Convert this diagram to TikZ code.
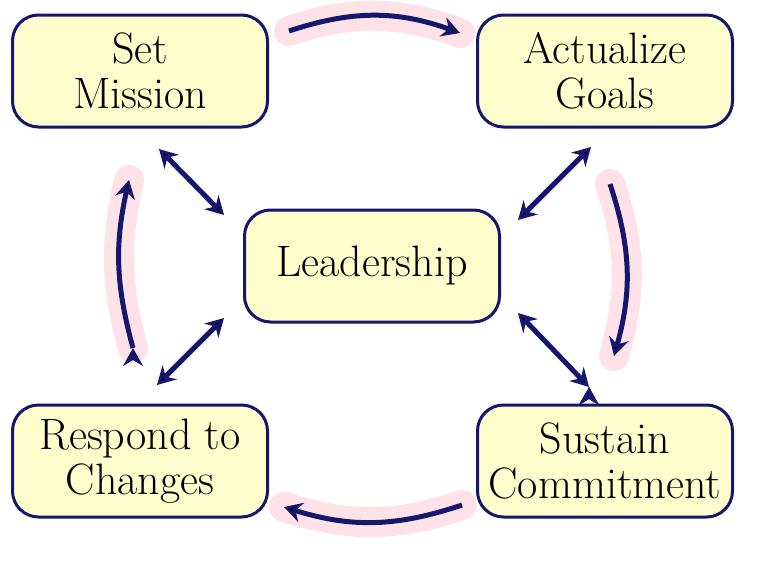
\documentclass[tikz,border=0pt]{standalone}
\usepackage{tikz}
\usetikzlibrary{positioning,arrows.meta,shapes}

\definecolor{boxfill}{RGB}{255,255,206}
\definecolor{navy}{RGB}{22,22,110}
\definecolor{glow}{RGB}{255,226,231}

\tikzset{
    stage/.style={draw=navy,line width=3pt,fill=boxfill,rounded corners=26pt,
        minimum width=255pt,minimum height=112pt,align=center,
        font=\fontsize{44}{45}\selectfont,inner sep=0pt},
    flow/.style={draw=navy,line width=5pt,-{Stealth[length=18pt,width=20pt,inset=6pt]}},
    link/.style={draw=navy,line width=5pt,{Stealth[length=18pt,width=20pt,inset=6pt]}-{Stealth[length=18pt,width=20pt,inset=6pt]}},
    halo/.style={draw=glow,line width=30pt,line cap=round}
}

\begin{document}
\begin{tikzpicture}[x=1pt,y=-1pt]
    \useasboundingbox[fill=white] (0,0) rectangle (764,563);

    \node[stage] (mission) at (140,71) {Set\\Mission};
    \node[stage] (goals) at (605,71) {Actualize\\Goals};
    \node[stage] (lead) at (372,266) {Leadership};
    \node[stage] (changes) at (140,461) {Respond to\\Changes};
    \node[stage] (commit) at (605,461) {Sustain\\Commitment};

    % ends of the arrows
    \coordinate (t0) at (289,31);  \coordinate (t1) at (460,33);
    \coordinate (r0) at (610,184); \coordinate (r1) at (614,356);
    \coordinate (b0) at (462,505); \coordinate (b1) at (284,507);
    \coordinate (l0) at (133,348); \coordinate (l1) at (129,180);

    \coordinate (ml0) at (159,149); \coordinate (ml1) at (224,215);
    \coordinate (gl0) at (591,147); \coordinate (gl1) at (518,220);
    \coordinate (cl0) at (157,385); \coordinate (cl1) at (224,318);
    \coordinate (tl0) at (589,387); \coordinate (tl1) at (518,313);

    % soft glow behind the cycle
    \path[halo] (t0) to[bend left=19] (t1);
    \path[halo] (r0) to[bend left=17] (r1);
    \path[halo] (b0) to[bend left=18] (b1);
    \path[halo] (l0) to[bend left=14] (l1);

    \path[flow]
        (t0) edge[bend left=19] (t1)
        (r0) edge[bend left=17] (r1)
        (b0) edge[bend left=18] (b1)
        (l0) edge[bend left=14] (l1);

    \path[link]
        (ml0) edge (ml1)
        (gl0) edge (gl1)
        (cl0) edge (cl1)
        (tl0) edge (tl1);
\end{tikzpicture}
\end{document}
